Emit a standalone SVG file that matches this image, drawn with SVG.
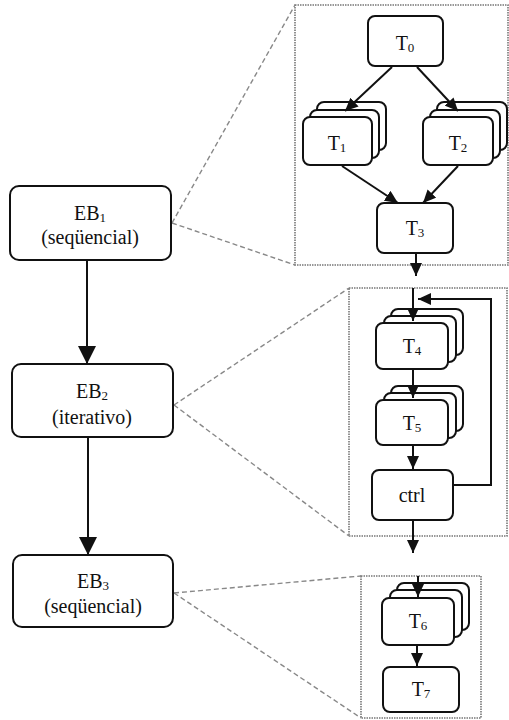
<svg xmlns="http://www.w3.org/2000/svg" width="509" height="720" viewBox="0 0 509 720">
<style>
.box{fill:#fff;stroke:#111;stroke-width:2}
.frame{fill:none;stroke:#777;stroke-width:1.6;stroke-dasharray:1.5 1}
.zoom{fill:none;stroke:#888;stroke-width:1.4;stroke-dasharray:5 3}
.ln{fill:none;stroke:#111;stroke-width:2}
.lbl{font-family:"Liberation Serif","Times New Roman",serif;font-size:20px;fill:#111;text-anchor:middle}
.t{font-family:"Liberation Serif","Times New Roman",serif;font-size:20px;fill:#111;text-anchor:middle}
.sub{font-size:13px}
</style>
<defs>
<marker id="big" markerWidth="18" markerHeight="20" refX="18" refY="9" orient="auto" markerUnits="userSpaceOnUse" viewBox="0 0 18 18">
<path d="M0,0 L18,9 L0,18 z" fill="#111"/>
</marker>
<marker id="sm" markerWidth="13" markerHeight="12" refX="13" refY="6" orient="auto" markerUnits="userSpaceOnUse" viewBox="0 0 13 12">
<path d="M0,0 L13,6 L0,12 z" fill="#111"/>
</marker>
</defs>

<!-- frames and zoom lines -->
<g id="frames">
<rect class="frame" x="295" y="5" width="213" height="260"/>
<rect class="frame" x="349" y="288" width="158" height="248"/>
<rect class="frame" x="361" y="576" width="120" height="142"/>
<line class="zoom" x1="172" y1="223" x2="295" y2="5"/>
<line class="zoom" x1="172" y1="223" x2="295" y2="265"/>
<line class="zoom" x1="174" y1="405" x2="349" y2="288"/>
<line class="zoom" x1="174" y1="405" x2="349" y2="536"/>
<line class="zoom" x1="174" y1="593" x2="361" y2="576"/>
<line class="zoom" x1="174" y1="593" x2="361" y2="718"/>
</g>

<g id="EB1">
<rect class="box" x="10" y="186" width="161" height="74" rx="9"/>
<text class="lbl" x="90" y="220">EB<tspan class="sub" dy="2">1</tspan></text>
<text class="lbl" x="90" y="244">(seqüencial)</text>
</g>
<g id="EB2">
<rect class="box" x="12" y="364" width="161" height="73" rx="9"/>
<text class="lbl" x="92" y="398">EB<tspan class="sub" dy="2">2</tspan></text>
<text class="lbl" x="92" y="424">(iterativo)</text>
</g>
<g id="EB3">
<rect class="box" x="13" y="555" width="160" height="72" rx="9"/>
<text class="lbl" x="93" y="588">EB<tspan class="sub" dy="2">3</tspan></text>
<text class="lbl" x="93" y="613">(seqüencial)</text>
</g>

<g id="T0">
<rect class="box" x="368" y="16" width="75" height="50" rx="7"/>
<text class="t" x="405" y="50">T<tspan class="sub" dy="2">0</tspan></text>
</g>
<g id="T1">
<rect class="box" x="317" y="102" width="69" height="48" rx="7"/>
<rect class="box" x="310" y="110" width="69" height="48" rx="7"/>
<rect class="box" x="303" y="117" width="69" height="48" rx="7"/>
<text class="t" x="337" y="150">T<tspan class="sub" dy="2">1</tspan></text>
</g>
<g id="T2">
<rect class="box" x="437" y="102" width="70" height="48" rx="7"/>
<rect class="box" x="430" y="110" width="70" height="48" rx="7"/>
<rect class="box" x="423" y="117" width="70" height="48" rx="7"/>
<text class="t" x="458" y="150">T<tspan class="sub" dy="2">2</tspan></text>
</g>
<g id="T3">
<rect class="box" x="377" y="203" width="76" height="50" rx="7"/>
<text class="t" x="415" y="235">T<tspan class="sub" dy="2">3</tspan></text>
</g>
<g id="T4">
<rect class="box" x="391" y="309" width="72" height="46" rx="7"/>
<rect class="box" x="384" y="316" width="72" height="46" rx="7"/>
<rect class="box" x="376" y="323" width="72" height="46" rx="7"/>
<text class="t" x="412" y="353">T<tspan class="sub" dy="2">4</tspan></text>
</g>
<g id="T5">
<rect class="box" x="391" y="386" width="72" height="45" rx="7"/>
<rect class="box" x="384" y="393" width="72" height="45" rx="7"/>
<rect class="box" x="376" y="400" width="72" height="45" rx="7"/>
<text class="t" x="412" y="430">T<tspan class="sub" dy="2">5</tspan></text>
</g>
<g id="ctrl">
<rect class="box" x="372" y="470" width="81" height="50" rx="7"/>
<text class="t" x="412" y="502">ctrl</text>
</g>
<g id="T6">
<rect class="box" x="397" y="583" width="72" height="47" rx="7"/>
<rect class="box" x="390" y="590" width="72" height="47" rx="7"/>
<rect class="box" x="382" y="598" width="72" height="47" rx="7"/>
<text class="t" x="418" y="628">T<tspan class="sub" dy="2">6</tspan></text>
</g>
<g id="T7">
<rect class="box" x="383" y="667" width="76" height="45" rx="7"/>
<text class="t" x="421" y="696">T<tspan class="sub" dy="2">7</tspan></text>
</g>

<g id="connectors">
<line class="ln" x1="87" y1="261" x2="87" y2="364" marker-end="url(#big)"/>
<line class="ln" x1="88" y1="438" x2="88" y2="555" marker-end="url(#big)"/>
<line class="ln" x1="392" y1="67" x2="345" y2="111" marker-end="url(#sm)"/>
<line class="ln" x1="417" y1="67" x2="458" y2="111" marker-end="url(#sm)"/>
<line class="ln" x1="342" y1="166" x2="398" y2="203" marker-end="url(#sm)"/>
<line class="ln" x1="458" y1="166" x2="423" y2="203" marker-end="url(#sm)"/>
<line class="ln" x1="416" y1="254" x2="416" y2="276" marker-end="url(#sm)"/>
<line class="ln" x1="413" y1="288" x2="413" y2="321" marker-end="url(#sm)"/>
<line class="ln" x1="413" y1="370" x2="413" y2="398" marker-end="url(#sm)"/>
<line class="ln" x1="413" y1="446" x2="413" y2="469" marker-end="url(#sm)"/>
<polyline class="ln" points="454,485 491,485 491,299 418,299" marker-end="url(#sm)"/>
<line class="ln" x1="413" y1="521" x2="413" y2="553" marker-end="url(#sm)"/>
<line class="ln" x1="418" y1="576" x2="418" y2="597" marker-end="url(#sm)"/>
<line class="ln" x1="417" y1="646" x2="417" y2="666" marker-end="url(#sm)"/>
</g>
</svg>
